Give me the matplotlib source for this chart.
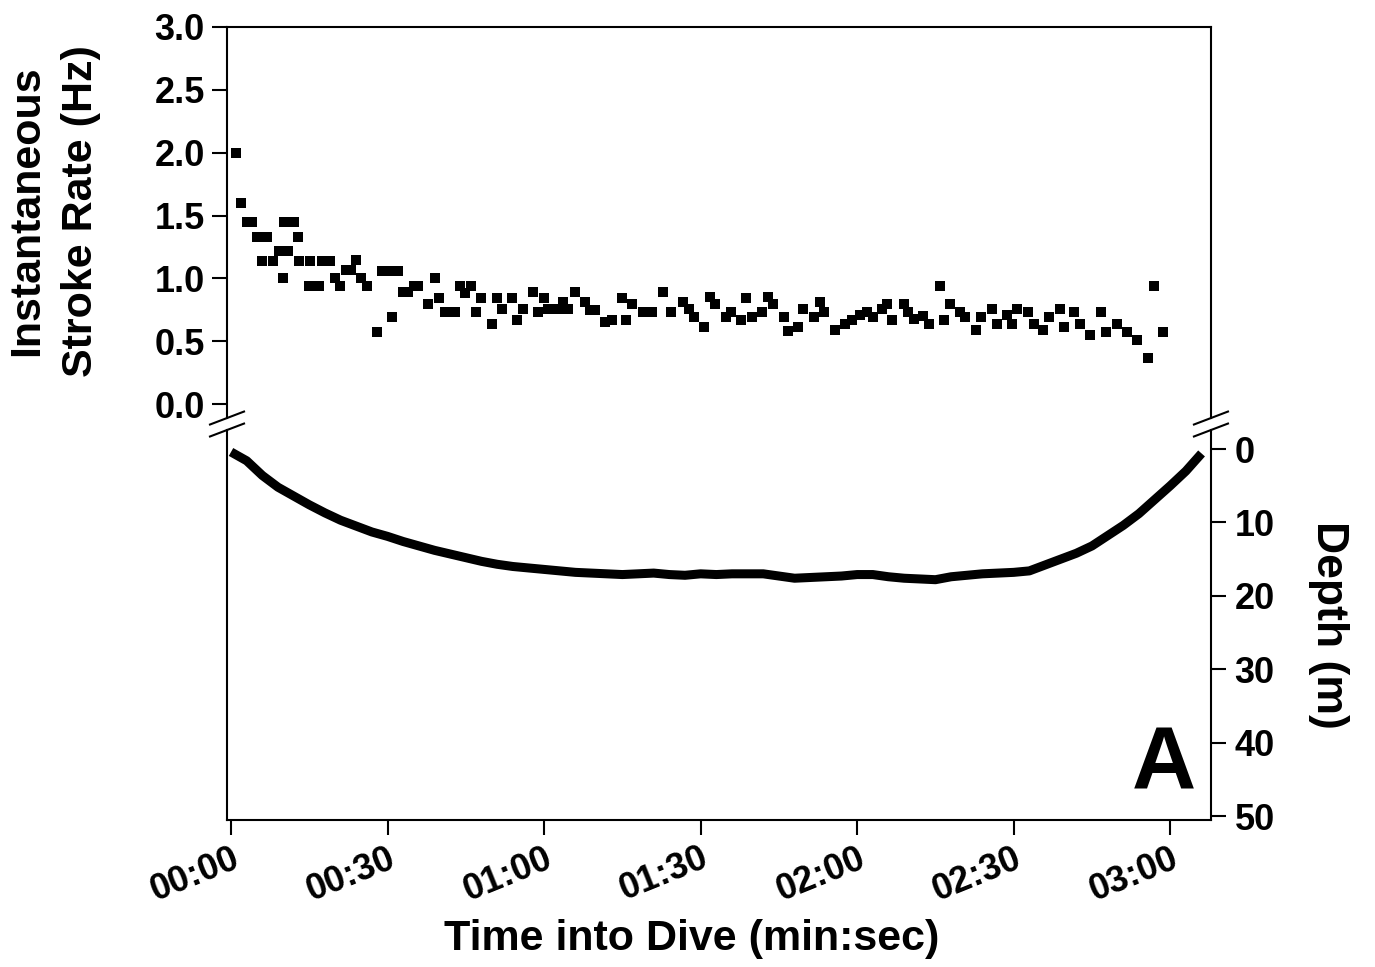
import matplotlib
matplotlib.use('Agg')
import matplotlib.pyplot as plt

plt.rcParams['font.family'] = ['Liberation Sans', 'DejaVu Sans']
plt.rcParams['font.weight'] = 'bold'

# stroke rate samples (time in s, rate in Hz)
stroke_time = [1.0, 1.9, 3.1, 4.0, 5.0, 5.9, 6.8, 8.0, 9.2, 9.9, 10.2, 11.0, 12.1, 12.9, 13.0,
               15.0, 15.1, 16.9, 17.4, 19.0, 19.9, 20.9, 22.0, 23.0, 24.0, 24.9, 26.0, 27.9,
               28.9, 30.5, 30.9, 32.0, 33.0, 33.9, 35.1, 35.9, 37.8, 39.0, 39.9, 41.0, 42.9,
               43.9, 44.9, 46.0, 46.9, 47.9, 50.0, 50.9, 51.9, 53.8, 54.9, 55.9, 57.9, 58.9,
               59.9, 60.8, 62.7, 63.7, 64.6, 65.9, 67.9, 68.8, 69.8, 71.7, 73.0, 74.9, 75.7,
               76.8, 79.0, 80.6, 82.7, 84.3, 86.7, 87.7, 88.8, 90.7, 91.8, 92.8, 94.9, 95.8,
               97.8, 98.7, 99.8, 101.7, 102.9, 103.9, 105.9, 106.8, 108.7, 109.7, 111.8, 112.8,
               113.7, 115.8, 117.7, 119.0, 120.6, 121.8, 123.1, 124.7, 125.7, 126.6, 128.9,
               129.8, 130.8, 132.7, 133.8, 135.8, 136.7, 137.7, 139.7, 140.7, 142.8, 143.8,
               145.8, 146.8, 148.7, 149.6, 150.6, 152.7, 153.8, 155.7, 156.7, 158.8, 159.7,
               161.6, 162.7, 164.6, 166.7, 167.7, 169.8, 171.7, 173.6, 175.7, 176.8, 178.7]
stroke_rate = [2.00, 1.60, 1.45, 1.45, 1.33, 1.14, 1.33, 1.14, 1.22, 1.00, 1.45, 1.22, 1.45, 1.33, 1.14,
               0.94, 1.14, 0.94, 1.14, 1.14, 1.00, 0.94, 1.07, 1.07, 1.15, 1.00, 0.94, 0.57,
               1.06, 1.06, 0.69, 1.06, 0.89, 0.89, 0.94, 0.94, 0.80, 1.00, 0.84, 0.73, 0.73,
               0.94, 0.88, 0.94, 0.73, 0.84, 0.64, 0.84, 0.76, 0.84, 0.67, 0.76, 0.89, 0.73,
               0.84, 0.76, 0.76, 0.81, 0.76, 0.89, 0.81, 0.75, 0.75, 0.65, 0.67, 0.84, 0.67,
               0.80, 0.73, 0.73, 0.89, 0.73, 0.81, 0.76, 0.69, 0.61, 0.85, 0.80, 0.69, 0.73,
               0.67, 0.84, 0.69, 0.73, 0.85, 0.80, 0.69, 0.58, 0.61, 0.76, 0.69, 0.81,
               0.73, 0.59, 0.64, 0.67, 0.71, 0.73, 0.69, 0.76, 0.80, 0.67, 0.80,
               0.73, 0.68, 0.70, 0.64, 0.94, 0.67, 0.80, 0.73, 0.69, 0.59, 0.69,
               0.76, 0.64, 0.71, 0.64, 0.76, 0.73, 0.64, 0.59, 0.69, 0.76, 0.61,
               0.73, 0.64, 0.55, 0.73, 0.57, 0.64, 0.57, 0.51, 0.37, 0.94, 0.57]

# dive profile (time in s, depth in m)
depth_time = [0, 3, 6, 9, 12, 15, 18, 21, 24, 27, 30, 33, 36, 39, 42, 45, 48, 51, 54, 57,
              60, 63, 66, 69, 72, 75, 78, 81, 84, 87, 90, 93, 96, 99, 102, 105, 108, 111,
              114, 117, 120, 123, 126, 129, 132, 135, 138, 141, 144, 147, 150, 153, 156,
              159, 162, 165, 168, 171, 174, 177, 180, 183, 186]
depth = [0.4, 1.6, 3.6, 5.2, 6.4, 7.6, 8.7, 9.7, 10.5, 11.3, 11.9, 12.6, 13.2, 13.8, 14.3,
         14.8, 15.3, 15.7, 16.0, 16.2, 16.4, 16.6, 16.8, 16.9, 17.0, 17.1, 17.0, 16.9, 17.1,
         17.2, 17.0, 17.1, 17.0, 17.0, 17.0, 17.3, 17.6, 17.5, 17.4, 17.3, 17.1, 17.1, 17.4,
         17.6, 17.7, 17.8, 17.4, 17.2, 17.0, 16.9, 16.8, 16.6, 15.8, 15.0, 14.2, 13.2, 11.8,
         10.4, 8.8, 6.9, 5.0, 3.0, 0.6]

time_ticks = [0, 30, 60, 90, 120, 150, 180]
time_labels = ['00:00', '00:30', '01:00', '01:30', '02:00', '02:30', '03:00']

fig = plt.figure(figsize=(13.75, 9.67), dpi=100)
ax = fig.add_axes([0.1651, 0.5677, 0.7156, 0.4044])
ax2 = fig.add_axes([0.1651, 0.152, 0.7156, 0.4033])

xlim = (-0.77, 187.8)

# upper panel - stroke rate
ax.plot(stroke_time, stroke_rate, 's', color='black', markersize=7.2, markeredgewidth=0)
ax.set_xlim(xlim)
ax.set_ylim(-0.111, 3.0)
ax.set_yticks([0.0, 0.5, 1.0, 1.5, 2.0, 2.5, 3.0])
ax.set_yticklabels(['0.0', '0.5', '1.0', '1.5', '2.0', '2.5', '3.0'])
ax.set_xticks([])
ax.spines['bottom'].set_visible(False)
ax.tick_params(axis='y', direction='out', length=11, width=1.5, labelsize=26, pad=5)
ax.set_ylabel('Instantaneous\nStroke Rate (Hz)', fontsize=31, fontweight='bold',
              linespacing=1.45)
ax.yaxis.set_label_coords(-0.128, 0.53)

# lower panel - depth
ax2.plot(depth_time, depth, '-', color='black', linewidth=6.5, solid_capstyle='butt')
ax2.set_xlim(xlim)
ax2.set_ylim(50.54, -2.59)
ax2.spines['top'].set_visible(False)
ax2.yaxis.tick_right()
ax2.yaxis.set_label_position('right')
ax2.set_yticks([0, 10, 20, 30, 40, 50])
ax2.tick_params(axis='y', direction='out', length=11, width=1.5, labelsize=26, pad=6)
ax2.set_ylabel('Depth (m)', fontsize=32, fontweight='bold', rotation=-90, va='bottom',
               labelpad=24)
ax2.set_xticks(time_ticks)
ax2.set_xticklabels(time_labels, rotation=22, ha='right', rotation_mode='anchor')
ax2.tick_params(axis='x', direction='out', length=11, width=1.5, labelsize=26, pad=4)
ax2.set_xlabel('Time into Dive (min:sec)', fontsize=31, fontweight='bold', labelpad=8,
               x=0.4726)
ax2.text(0.985, 0.078, 'A', transform=ax2.transAxes, fontsize=64, fontweight='bold',
         ha='right', va='baseline')

for a in (ax, ax2):
    for s in a.spines.values():
        s.set_linewidth(1.5)

# axis break marks
dx, dy = 0.0173, 0.0166
kw = dict(color='black', clip_on=False, linewidth=1.5)
ax.plot((-dx, dx), (-dy, dy), transform=ax.transAxes, **kw)
ax.plot((1 - dx, 1 + dx), (-dy, dy), transform=ax.transAxes, **kw)
ax2.plot((-dx, dx), (1 - dy, 1 + dy), transform=ax2.transAxes, **kw)
ax2.plot((1 - dx, 1 + dx), (1 - dy, 1 + dy), transform=ax2.transAxes, **kw)

fig.savefig('out.png', dpi=100)
